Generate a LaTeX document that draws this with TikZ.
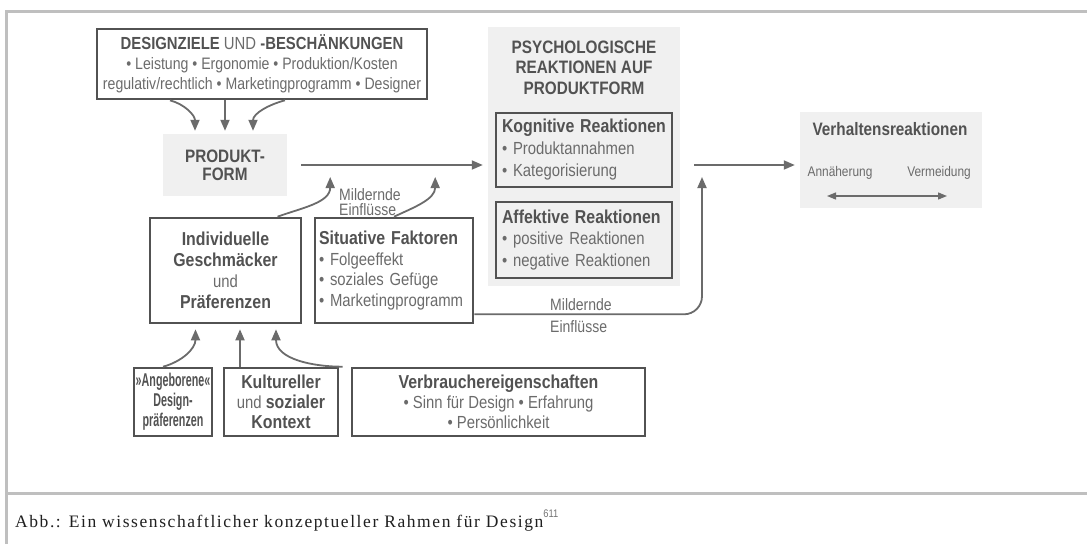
\documentclass[tikz,border=0pt]{standalone}
\usepackage{fontspec}
\setmainfont{Liberation Serif}
\newfontfamily\diagfont[FakeStretch=0.85]{Liberation Sans}
\newfontfamily\squeezefont[FakeStretch=0.58]{Liberation Sans}
\newfontfamily\capfont[LetterSpace=9]{Liberation Serif}
\usepackage{tikz}
\usetikzlibrary{positioning,arrows.meta,calc}
\colorlet{inkgray}{black!68}
\colorlet{txtgray}{black!58}
\colorlet{linegray}{black!58}
\colorlet{framegray}{black!25}
\colorlet{shadegray}{black!6}
\newcommand{\bodysize}{\fontsize{17.5}{21}\selectfont}
\newcommand{\headsize}{\fontsize{18}{20.5}\selectfont}
\newcommand{\smallsize}{\fontsize{14}{16}\selectfont}
\newcommand{\hd}[1]{{\bfseries\color{inkgray}#1}}
\newcommand{\ttl}[1]{{\fontsize{18.7}{21}\selectfont\bfseries\color{inkgray}#1}}

\begin{document}
\begin{tikzpicture}[x=1pt,y=-1pt,
  every node/.style={font=\diagfont\bodysize, text=txtgray, inner sep=0pt},
  boxed/.style={draw=inkgray, line width=2.6pt},
  shaded/.style={fill=shadegray},
  heading/.style={font=\diagfont\bfseries\headsize, text=inkgray, align=center},
  conn/.style={draw=linegray, line width=1.8pt, -{Triangle[length=11pt,width=9pt]}},
  twoway/.style={draw=linegray, line width=1.3pt, {Triangle[length=9pt,width=7pt]}-{Triangle[length=9pt,width=7pt]}}]
  \useasboundingbox (0,0) rectangle (1087,544);
  \draw[framegray, line width=3pt] (6,544) -- (6,11) -- (1087,11);
  \draw[framegray, line width=3pt] (6,493) -- (1087,493);

  \node[boxed, minimum width=330pt, minimum height=70pt, align=center, font=\diagfont\fontsize{16.6}{20}\selectfont] (goals) at (262,64)
    {{\fontsize{17.5}{20}\selectfont\hd{DESIGNZIELE} UND \hd{-BESCHÄNKUNGEN}}\\• Leistung • Ergonomie • Produktion/Kosten\\regulativ/rechtlich • Marketingprogramm • Designer};
  \node[shaded, heading, minimum width=124pt, minimum height=62pt, font=\diagfont\bfseries\fontsize{18}{18}\selectfont] (form) at (225,165) {PRODUKT-\\FORM};

  \node[shaded, minimum width=192pt, minimum height=259pt] (psych) at (584,156.5) {};
  \node[heading] (psychtitle) at (584,67.5) {PSYCHOLOGISCHE\\REAKTIONEN AUF\\PRODUKTFORM};
  \node[boxed, minimum width=176pt, minimum height=74pt, align=left, text width=164pt, font=\diagfont\fontsize{17.5}{22}\selectfont] (cogn) at (584,150)
    {\ttl{Kognitive Reaktionen}\\• Produktannahmen\\• Kategorisierung};
  \node[boxed, minimum width=176pt, minimum height=76pt, align=left, text width=164pt, font=\diagfont\fontsize{17.5}{21.5}\selectfont] (affect) at (584,240)
    {\ttl{Affektive Reaktionen}\\• positive Reaktionen\\• negative Reaktionen};

  \node[shaded, minimum width=182pt, minimum height=96pt] (behav) at (891,160) {};
  \node[heading] (behavtitle) at (890,129) {Verhaltensreaktionen};
  \node[font=\diagfont\smallsize] (appr) at (840,173) {Annäherung};
  \node[font=\diagfont\smallsize] (avoid) at (939,173) {Vermeidung};
  \coordinate (apprtip) at (827,196);
  \coordinate (avoidtip) at (947,196);
  \draw[twoway] (apprtip) -- (avoidtip);

  \node[boxed, minimum width=151pt, minimum height=105pt, align=center] (taste) at (225.5,270.5)
    {\ttl{Individuelle}\\\ttl{Geschmäcker}\\und\\\ttl{Präferenzen}};
  \node[boxed, minimum width=158pt, minimum height=105pt, align=left, text width=150pt, font=\diagfont\fontsize{17.5}{20.7}\selectfont] (situ) at (394,270.5)
    {\ttl{Situative Faktoren}\\• Folgeeffekt\\• soziales Gefüge\\• Marketingprogramm};

  \node[boxed, minimum width=78pt, minimum height=68pt, align=center, font=\squeezefont\fontsize{18.5}{20}\selectfont] (innate) at (173,402)
    {\hd{»Angeborene«}\\\hd{Design-}\\\hd{präferenzen}};
  \node[boxed, minimum width=114pt, minimum height=68pt, align=center, font=\diagfont\fontsize{17.5}{20}\selectfont] (culture) at (281,402)
    {\ttl{Kultureller}\\und \ttl{sozialer}\\\ttl{Kontext}};
  \node[boxed, minimum width=293pt, minimum height=68pt, align=center, font=\diagfont\fontsize{17.5}{20}\selectfont] (consumer) at (498.5,402)
    {\ttl{Verbrauchereigenschaften}\\• Sinn für Design • Erfahrung\\• Persönlichkeit};

  \draw[conn] ([xshift=-92pt]goals.south) to[out=-15,in=90] ([shift={(-30,-3)}]form.north);
  \draw[conn] (form.north |- goals.south) -- ([shift={(0,-3)}]form.north);
  \draw[conn] ([xshift=23pt]goals.south) to[out=-165,in=90] ([shift={(28,-3)}]form.north);

  \draw[conn] ([xshift=14pt]form.east) -- ($(form.east -| psych.west)+(-5,0)$);
  \coordinate (calm1) at ($(form.east)+(43,12)$);
  \coordinate (calm2) at ($(form.east)+(148,12)$);
  \draw[conn] ([xshift=52pt]taste.north) to[out=20,in=-90] (calm1);
  \draw[conn] (situ.north) to[out=25,in=-90] (calm2);
  \node[font=\diagfont\fontsize{16.5}{15.5}\selectfont, align=left] (calmtext1) at (370,202) {Mildernde\\Einflüsse};

  \coordinate (merge) at (694,165);
  \coordinate (calm3) at (702,177);
  \draw[conn, rounded corners=18pt] ($(situ.south east)+(0,-10)$) -| (calm3);
  \node[font=\diagfont\fontsize{16.5}{22}\selectfont, align=left] (calmtext2) at (581,316) {Mildernde\\Einflüsse};
  \draw[conn] (merge) -- ($(merge -| behav.west)+(-5,0)$);

  \draw[conn] ([xshift=-10pt]innate.north) to[out=15,in=-90] ([shift={(-30,5)}]taste.south);
  \draw[conn] ($(taste.south |- culture.north)+(14.5,0)$) -- ([shift={(14.5,5)}]taste.south);
  \draw[conn] ([xshift=-8pt]consumer.north west) to[out=180,in=-90] ([shift={(50.5,5)}]taste.south);

  \node[anchor=base west, font=\capfont\fontsize{17.5}{20}\selectfont, text=black!88] (caption) at (15,527)
    {Abb.: Ein wissenschaftlicher konzeptueller Rahmen für Design\raisebox{10pt}{\diagfont\fontsize{11}{11}\selectfont\color{black!55}611}};
\end{tikzpicture}
\end{document}
